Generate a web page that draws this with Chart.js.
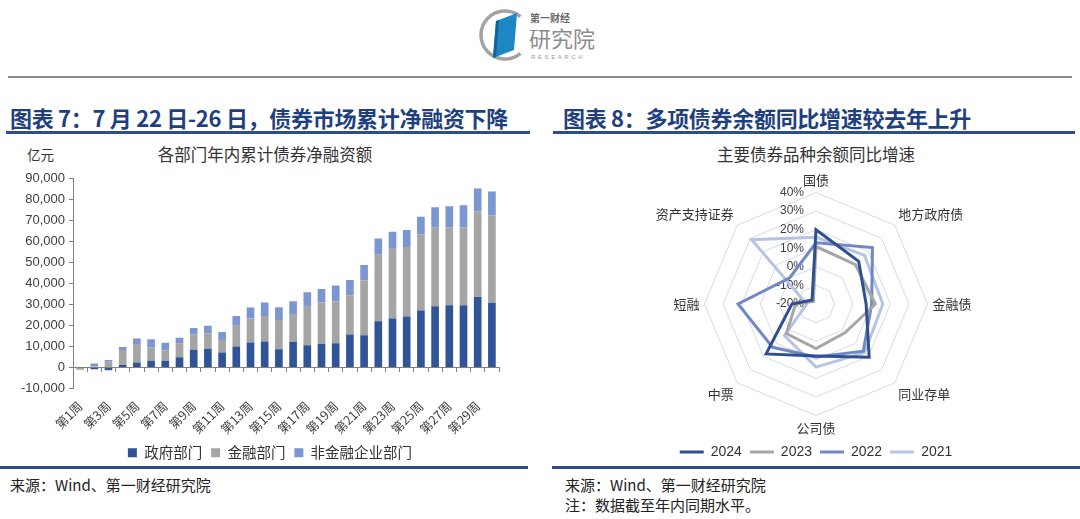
<!DOCTYPE html>
<html><head><meta charset="utf-8">
<script src="https://cdn.jsdelivr.net/npm/chart.js@4.4.1/dist/chart.umd.min.js"></script>
<style>
html,body{margin:0;padding:0;width:1080px;height:519px;overflow:hidden;background:#fff;font-family:"Noto Sans CJK SC","Noto Sans",sans-serif;}
.abs{position:absolute;}
.ttl{font-weight:bold;font-size:22px;color:#1F3F7F;white-space:nowrap;letter-spacing:-0.3px;}
.ctitle{font-size:16.5px;color:#333;white-space:nowrap;transform:translateX(-50%);}
.src{font-size:15px;color:#222;white-space:nowrap;}
</style></head><body>

<div class="abs" style="left:478px;top:4px;width:130px;height:62px">
<svg width="130" height="62" xmlns="http://www.w3.org/2000/svg">
  <path d="M 42.4 12.6 A 24 24 0 1 0 42.4 49.4" fill="none" stroke="#a3a3a3" stroke-width="3.5"/>
  <polygon points="18,17 39,9 36,46 15,54" fill="#1f86c6"/>
  <polygon points="15,54 18,17 21,16 18,53" fill="#16609a"/>
  <text x="52" y="18" font-size="10" font-weight="bold" fill="#6a6a6a" font-family="Noto Sans CJK SC">第一财经</text>
  <text x="51" y="43" font-size="22" fill="#8c8c8c" font-family="Noto Sans CJK SC">研究院</text>
  <text x="53" y="55" font-size="6" letter-spacing="2.6" fill="#9a9a9a" font-family="Liberation Sans">RESEARCH</text>
</svg></div>
<div class="abs" style="left:8px;top:76px;width:1064px;height:2px;background:#8c8c8c"></div>

<div class="abs ttl" style="left:10px;top:101px">图表 7：7 月 22 日-26 日，债券市场累计净融资下降</div>
<div class="abs ttl" style="left:563px;top:101px">图表 8：多项债券余额同比增速较去年上升</div>
<div class="abs" style="left:6px;top:131px;width:524px;height:3px;background:#2F4D8A"></div>
<div class="abs" style="left:553px;top:131px;width:522px;height:3px;background:#2F4D8A"></div>

<div class="abs" style="left:27px;top:144px;font-size:13.5px;color:#333">亿元</div>
<div class="abs ctitle" style="left:265px;top:142px">各部门年内累计债券净融资额</div>
<div class="abs ctitle" style="left:816px;top:142px">主要债券品种余额同比增速</div>

<div class="abs" style="left:0px;top:165px;width:540px;height:305px"><canvas id="c1"></canvas></div>
<div class="abs" style="left:552px;top:172px;width:528px;height:297px"><canvas id="c2"></canvas></div>

<div class="abs" style="left:0px;top:466px;width:528px;height:3px;background:#2F4D8A"></div>
<div class="abs" style="left:552px;top:466px;width:528px;height:3px;background:#2F4D8A"></div>
<div class="abs src" style="left:10px;top:474px">来源：Wind、第一财经研究院</div>
<div class="abs src" style="left:565px;top:474px">来源：Wind、第一财经研究院</div>
<div class="abs src" style="left:565px;top:494px">注：数据截至年内同期水平。</div>

<script>
// ---- Chart 7 data (亿元) ----
const weeks = ['第1周','第2周','第3周','第4周','第5周','第6周','第7周','第8周','第9周','第10周',
  '第11周','第12周','第13周','第14周','第15周','第16周','第17周','第18周','第19周','第20周',
  '第21周','第22周','第23周','第24周','第25周','第26周','第27周','第28周','第29周','第30周'];
const govData = [0,-900,-1300,1200,2400,3200,3200,4900,8400,8900,
  7100,10000,11800,12300,8700,12200,10600,11100,11500,15700,
  15300,22000,23200,24200,27000,29100,29600,29600,33500,30700];
const finData = [-1100,500,2700,7100,8400,6400,4800,6600,7400,7400,
  5900,9800,11400,12200,13900,12800,18200,19700,19800,18600,
  26000,31500,33200,33000,36300,37500,36900,36900,40700,41500];
const nonfinData = [200,1400,800,1400,2900,3800,3700,2600,2900,3500,
  3800,4700,5300,6300,6000,6400,6900,6500,7600,7300,
  7400,7700,8100,8100,8300,9500,10100,10600,10800,11400];
const barSeriesNames = ['政府部门','金融部门','非金融企业部门'];
const yMin = -10000, yMax = 90000, yStep = 10000;

// ---- Chart 8 data (%) ----
const bondTypes = ['国债','地方政府债','金融债','同业存单','公司债','中票','短融','资产支持证券'];
const years = ['2024','2023','2022','2021'];
const g2024 = [20, 12.5, 7, 20.5, 8, 18, -7, -17];
const g2023 = [11, 10, 12, 2, 4, 2.5, -9, -18];
const g2022 = [13, 23, 10, 16, 8.5, 13, 22, 0];
const g2021 = [16, 17, 16, 17, 14, 4, -15, 29];
const rMin = -20, rMax = 40, rStep = 10;

const cjk = '"Noto Sans CJK SC", "Noto Sans", sans-serif';
const lat = '"Liberation Sans", Arial, sans-serif';

new Chart(document.getElementById('c1'), {
  type: 'bar',
  data: {
    labels: weeks,
    datasets: [
      {label: barSeriesNames[0], data: govData, backgroundColor: '#2F5597', stack: 's'},
      {label: barSeriesNames[1], data: finData, backgroundColor: '#A5A5A5', stack: 's'},
      {label: barSeriesNames[2], data: nonfinData, backgroundColor: '#7C96D2', stack: 's'}
    ]
  },
  options: {
    responsive: true, maintainAspectRatio: false, animation: false,
    layout: {padding: {top: 13, right: 0, left: 0, bottom: 0}},
    datasets: {bar: {barPercentage: 0.54, categoryPercentage: 1}},
    plugins: {
      tooltip: {enabled: false},
      legend: {position: 'bottom', labels: {boxWidth: 9, boxHeight: 9, padding: 9, color: '#333', font: {family: cjk, size: 14.5}}}
    },
    scales: {
      x: {
        stacked: true, offset: true,
        grid: {display: false}, border: {display: false},
        ticks: {autoSkip: false, minRotation: 45, maxRotation: 45, padding: 2, color: '#404040',
          font: {family: cjk, size: 12.5},
          callback: (v, i) => (i % 2 === 0 ? weeks[i] : '')},
        afterFit: s => { s.height = 48; }
      },
      x2: {
        type: 'category', position: {y: 0}, offset: true,
        grid: {offset: true, drawOnChartArea: false, drawTicks: true, tickLength: 4, color: '#808080'},
        border: {display: true, color: '#808080', width: 1},
        ticks: {display: false}
      },
      y: {
        stacked: true, min: yMin, max: yMax,
        grid: {drawOnChartArea: false, drawTicks: true, tickLength: 4, color: '#808080'},
        border: {display: true, color: '#808080'},
        ticks: {stepSize: yStep, padding: 4, color: '#404040', font: {family: lat, size: 13},
          callback: v => v.toLocaleString('en-US')},
        afterFit: s => { s.width = 73; }
      },
      yR: {
        type: 'linear', position: 'right',
        grid: {display: false}, border: {display: false},
        ticks: {display: false},
        afterFit: s => { s.width = 41; }
      }
    }
  }
});

const radarTickPlugin = {
  id: 'radarTicks',
  beforeDatasetsDraw(chart) {
    const s = chart.scales.r, ctx = chart.ctx;
    ctx.save();
    ctx.font = '12px ' + lat;
    ctx.fillStyle = '#404040';
    ctx.textAlign = 'right';
    ctx.textBaseline = 'middle';
    s.ticks.forEach(t => {
      const d = s.getDistanceFromCenterForValue(t.value);
      ctx.fillText(t.value + '%', s.xCenter - 12, s.yCenter - d);
    });
    ctx.restore();
  }
};

new Chart(document.getElementById('c2'), {
  type: 'radar',
  data: {
    labels: bondTypes,
    datasets: [
      {label: years[0], data: g2024, borderColor: '#2F4F8F', backgroundColor: '#2F4F8F', borderWidth: 3},
      {label: years[1], data: g2023, borderColor: '#A6A6A6', backgroundColor: '#A6A6A6', borderWidth: 3},
      {label: years[2], data: g2022, borderColor: '#7088C8', backgroundColor: '#7088C8', borderWidth: 3},
      {label: years[3], data: g2021, borderColor: '#B6C4E4', backgroundColor: '#B6C4E4', borderWidth: 3}
    ]
  },
  options: {
    responsive: true, maintainAspectRatio: false, animation: false,
    layout: {padding: 0},
    elements: {line: {borderWidth: 3, fill: false, tension: 0, borderJoinStyle: 'miter'}, point: {radius: 0}},
    plugins: {
      tooltip: {enabled: false},
      legend: {position: 'bottom', labels: {usePointStyle: true, pointStyle: 'line', pointStyleWidth: 24, padding: 8,
        color: '#333', font: {family: lat, size: 14}}}
    },
    scales: {
      r: {
        min: rMin, max: rMax,
        ticks: {display: false, stepSize: rStep},
        grid: {circular: false, color: '#D3DAEA', lineWidth: 1},
        angleLines: {display: false},
        pointLabels: {padding: 5, color: '#333', font: {family: cjk, size: 13}}
      }
    }
  },
  plugins: [radarTickPlugin]
});
</script>
</body></html>
